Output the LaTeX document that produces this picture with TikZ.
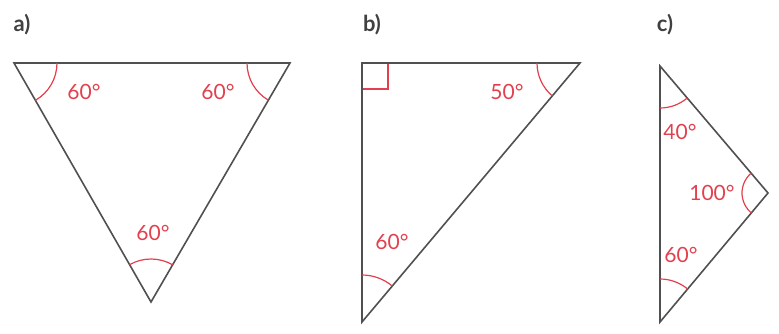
\documentclass[tikz,border=0pt]{standalone}
\usepackage{fontspec}
\setmainfont{Lato}
\usetikzlibrary{angles}
\definecolor{edge}{HTML}{505050}
\definecolor{mark}{HTML}{E2404E}
\tikzset{
  tri/.style={draw=edge, line width=1.6pt, line join=miter},
  ang/.style={draw=mark, line width=1.2pt},
  lbl/.style={text=mark, font=\fontsize{21}{21}\selectfont, inner sep=0pt},
  part/.style={text=edge!80!black, font=\bfseries\fontsize{22}{22}\selectfont, inner sep=0pt}
}
\begin{document}
\begin{tikzpicture}[x=1pt,y=1pt]
\useasboundingbox (0,0) rectangle (779,333);
% a)
\node[part] (la) at (22,308) {a)};
\coordinate (A1) at (14,270);
\coordinate (A2) at (290,270);
\coordinate (A3) at (151,31);
\draw[tri] (A1) -- (A2) -- (A3) -- cycle;
\pic[ang, angle radius=43pt] {angle = A3--A1--A2};
\pic[ang, angle radius=43pt] {angle = A1--A2--A3};
\pic[ang, angle radius=43pt] {angle = A2--A3--A1};
\node[lbl] (a1) at (84,241) {60°};
\node[lbl] (a2) at (218,241) {60°};
\node[lbl] (a3) at (153,100) {60°};
% b)
\node[part] (lb) at (372,308) {b)};
\coordinate (B1) at (362,270);
\coordinate (B2) at (580,270);
\coordinate (B3) at (362,11);
\draw[ang] (B1) ++(26,0) -- ++(0,-26) -- ++(-26,0);
\draw[tri] (B1) -- (B2) -- (B3) -- cycle;
\pic[ang, angle radius=43pt] {angle = B1--B2--B3};
\pic[ang, angle radius=47pt] {angle = B2--B3--B1};
\node[lbl] (b1) at (507,241) {50°};
\node[lbl] (b2) at (392,91) {60°};
% c)
\node[part] (lc) at (665,308) {c)};
\coordinate (C1) at (660,267);
\coordinate (C2) at (768,140);
\coordinate (C3) at (660,11);
\draw[tri] (C1) -- (C2) -- (C3) -- cycle;
\pic[ang, angle radius=42pt] {angle = C3--C1--C2};
\pic[ang, angle radius=26pt] {angle = C1--C2--C3};
\pic[ang, angle radius=43pt] {angle = C2--C3--C1};
\node[lbl] (c1) at (680,201) {40°};
\node[lbl] (c2) at (712,140) {100°};
\node[lbl] (c3) at (681,78) {60°};
\end{tikzpicture}
\end{document}
